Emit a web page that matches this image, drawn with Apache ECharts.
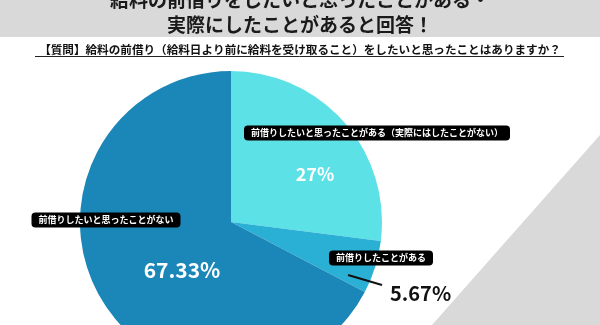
<!DOCTYPE html>
<html>
<head>
<meta charset="utf-8">
<script src="https://cdn.jsdelivr.net/npm/echarts@6/dist/echarts.min.js"></script>
<style>
  html, body { margin: 0; padding: 0; background: #fff; }
  #main { width: 600px; height: 325px; }
</style>
</head>
<body>
<div id="main"></div>
<script>
var titleLines = ['給料の前借りをしたいと思ったことがある・', '実際にしたことがあると回答！'];
var question = '【質問】給料の前借り（給料日より前に給料を受け取ること）をしたいと思ったことはありますか？';
var answers = ['前借りしたいと思ったことがある（実際にはしたことがない）', '前借りしたことがある', '前借りしたいと思ったことがない'];
var shares = [27, 5.67, 67.33];
var sliceColors = ['#5ce1e6', '#2bb0d5', '#1b86b8'];

var font = 'Noto Sans CJK JP';
var chartDom = document.getElementById('main');
var myChart = echarts.init(chartDom);

// where the percent and the name tag of each slice sit
var pctPos = [[315, 174], [390, 293], [182, 270]];
var tagPos = [[377, 133], [381, 258], [106, 220]];
var pctSize = [18, 20, 21];
var smallIdx = 1; // the thin slice gets its number outside, with a leader line

var pieData = answers.map(function (name, i) {
  return { name: name, value: shares[i], itemStyle: { color: sliceColors[i] },
    label: { show: i !== smallIdx, fontSize: pctSize[i] } };
});

var tagData = answers.map(function (name, i) {
  return { name: name, value: shares[i] };
});

// same slices again, transparent, only to carry the outside number on top
var outsideData = answers.map(function (name, i) {
  var item = { name: name, value: shares[i], label: { show: false } };
  if (i === smallIdx) {
    item.label = { show: true, position: 'outside', color: '#111', fontSize: pctSize[i] };
    item.labelLine = { show: true, lineStyle: { color: '#111', width: 2 } };
  }
  return item;
});

var pieBase = {
  type: 'pie',
  center: [231, 222],
  radius: 151,
  avoidLabelOverlap: false,
  silent: true
};

var option = {
  animation: false,
  title: [
    { text: titleLines[0], left: 'center', top: -12, padding: 0,
      textStyle: { fontFamily: font, fontSize: 19, fontWeight: 'bold', color: '#1a1a1a', lineHeight: 24 } },
    { text: titleLines[1], left: 'center', top: 13, padding: 0,
      textStyle: { fontFamily: font, fontSize: 19, fontWeight: 'bold', color: '#1a1a1a', lineHeight: 24 } },
    { text: question, left: 'center', top: 43, padding: 0,
      textStyle: { fontFamily: font, fontSize: 11.6, fontWeight: 'bold', color: '#111', lineHeight: 14 } }
  ],
  graphic: [
    { type: 'rect', z: -10, shape: { x: 0, y: 0, width: 600, height: 37 }, style: { fill: '#d9d9d9' } },
    { type: 'polygon', z: -10, shape: { points: [[600, 135], [600, 325], [432, 325]] }, style: { fill: '#d9d9d9' } },
    { type: 'line', shape: { x1: 35, y1: 56.5, x2: 564, y2: 56.5 }, style: { stroke: '#222', lineWidth: 1 } }
  ],
  series: [
    echarts.util.extend({
      itemStyle: { borderWidth: 0 },
      label: {
        show: true,
        position: 'inside',
        formatter: '{c}%',
        color: '#fff',
        fontFamily: font,
        fontWeight: 'bold'
      },
      labelLine: { show: false },
      labelLayout: function (p) {
        var pos = pctPos[p.dataIndex];
        return { x: pos[0], y: pos[1], align: 'center', verticalAlign: 'middle' };
      },
      data: pieData
    }, pieBase),
    echarts.util.extend({
      z: 5,
      itemStyle: { color: 'transparent', borderWidth: 0 },
      label: {
        show: true,
        position: 'inside',
        formatter: '{b}',
        color: '#fff',
        fontFamily: font,
        fontWeight: 'bold',
        fontSize: 9,
        backgroundColor: '#000',
        borderRadius: 4,
        padding: [3, 7]
      },
      labelLine: { show: false },
      labelLayout: function (p) {
        var pos = tagPos[p.dataIndex];
        return { x: pos[0], y: pos[1], align: 'center', verticalAlign: 'middle' };
      },
      data: tagData
    }, pieBase),
    echarts.util.extend({
      z: 6,
      itemStyle: { color: 'transparent', borderWidth: 0 },
      label: {
        formatter: '{c}%',
        fontFamily: font,
        fontWeight: 'bold'
      },
      labelLine: { show: false },
      labelLayout: function (p) {
        if (p.dataIndex !== smallIdx) return {};
        var pos = pctPos[p.dataIndex];
        return { x: pos[0], y: pos[1], align: 'left', verticalAlign: 'middle',
          labelLinePoints: [[348, 275], [382, 285]] };
      },
      data: outsideData
    }, pieBase)
  ]
};

myChart.setOption(option);
</script>
</body>
</html>
